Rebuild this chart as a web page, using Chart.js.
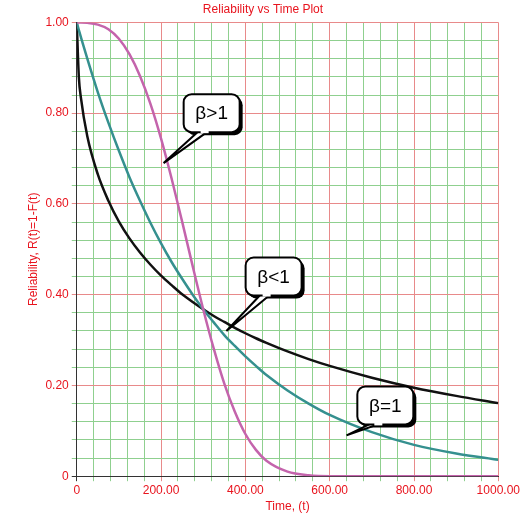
<!DOCTYPE html>
<html><head><meta charset="utf-8">
<script src="https://cdn.jsdelivr.net/npm/chart.js@4"></script>
<style>body{margin:0;background:#fff}#wrap{width:522px;height:514px}</style>
</head><body><div id="wrap"><canvas id="c"></canvas></div>
<script>
// time points
const times = [0,5,10,25,50,75,100,125,150,175,200,225,250,275,300,325,350,375,400,425,450,500,550,600,700,800,900,1000];
const betaLess = [1,0.879,0.833,0.749,0.665,0.607,0.561,0.524,0.493,0.466,0.442,0.421,0.401,0.384,0.368,0.353,0.340,0.327,0.315,0.304,0.294,0.275,0.258,0.243,0.217,0.195,0.177,0.161];
const betaOne = [1,0.983,0.967,0.920,0.846,0.779,0.717,0.659,0.607,0.558,0.513,0.472,0.435,0.400,0.368,0.339,0.311,0.287,0.264,0.243,0.223,0.189,0.160,0.135,0.097,0.069,0.050,0.036];
const betaMore = [1,1,1,0.999,0.995,0.985,0.964,0.930,0.882,0.820,0.744,0.656,0.561,0.463,0.368,0.281,0.204,0.142,0.093,0.058,0.034,0.010,0.002,0,0,0,0,0];
const callouts = [
  { text: 'β>1', box: [320, 0.80], tip: [206, 0.69] },
  { text: 'β<1', box: [467, 0.44], tip: [355, 0.32] },
  { text: 'β=1', box: [732, 0.156], tip: [640, 0.09] }
];

const toPts = arr => arr.map((v, i) => ({ x: times[i], y: v }));

const calloutPlugin = {
  id: 'callouts',
  afterDatasetsDraw(chart) {
    const { ctx, scales: { x, y } } = chart;
    ctx.save();
    ctx.font = '19px Arial, "Liberation Sans"';
    callouts.forEach(c => {
      const bx = x.getPixelForValue(c.box[0]), by = y.getPixelForValue(c.box[1]);
      const tx = x.getPixelForValue(c.tip[0]), ty = y.getPixelForValue(c.tip[1]);
      const w = 56, h = 38, l = bx - w / 2, t = by - h / 2;
      ctx.fillStyle = '#000';
      ctx.beginPath(); ctx.roundRect(l + 3, t + 3, w, h, 8); ctx.fill();
      ctx.fillStyle = '#fff'; ctx.strokeStyle = '#000'; ctx.lineWidth = 2;
      ctx.beginPath(); ctx.moveTo(bx - 12, t + h - 2); ctx.lineTo(tx, ty); ctx.lineTo(bx - 2, t + h - 2); ctx.closePath();
      ctx.fill(); ctx.stroke();
      ctx.beginPath(); ctx.roundRect(l, t, w, h, 8); ctx.fill(); ctx.stroke();
      ctx.fillRect(bx - 11, t + h - 4, 8, 5);
      ctx.fillStyle = '#000'; ctx.textAlign = 'center'; ctx.textBaseline = 'middle';
      ctx.fillText(c.text, bx, by + 1);
    });
    ctx.restore();
  }
};

const line = (data, color) => ({ data: toPts(data), borderColor: color, borderWidth: 2.5, pointRadius: 0, cubicInterpolationMode: 'monotone', fill: false });
const gridColor = c => c.index === 0 ? '#333' : (c.index % 5 === 0 ? '#e88a8a' : '#8fd08f');

new Chart(document.getElementById('c'), {
  type: 'line',
  data: { datasets: [line(betaMore, '#c464ac'), line(betaOne, '#35908f'), line(betaLess, '#111111')] },
  options: {
    responsive: true, maintainAspectRatio: false, animation: false,
    layout: { padding: { top: 0, right: 20, left: 24, bottom: 0 } },
    plugins: {
      legend: { display: false }, tooltip: { enabled: false },
      title: { display: true, text: 'Reliability vs Time Plot', color: '#e8141e', font: { size: 12, family: 'Arial', weight: 'normal' }, padding: { top: 2, bottom: 6 } }
    },
    scales: {
      x: {
        type: 'linear', min: 0, max: 1000,
        ticks: { stepSize: 40, autoSkip: false, maxRotation: 0, color: '#e8141e', font: { size: 12, family: 'Arial' }, padding: 2,
          callback: v => v % 200 === 0 ? (v === 0 ? '0' : v.toFixed(2)) : '' },
        grid: { color: gridColor, lineWidth: 1, tickLength: 5 },
        border: { color: '#333' },
        title: { display: true, text: 'Time, (t)', color: '#e8141e', font: { size: 12, family: 'Arial' }, padding: 0 }
      },
      y: {
        min: 0, max: 1,
        ticks: { stepSize: 0.04, autoSkip: false, color: '#e8141e', font: { size: 12, family: 'Arial' },
          callback: v => { const r = Math.round(v * 100); return r % 20 === 0 ? (r === 0 ? '0' : (r / 100).toFixed(2)) : ''; } },
        grid: { color: gridColor, lineWidth: 1, tickLength: 5 },
        border: { color: '#333' },
        title: { display: true, text: 'Reliability, R(t)=1-F(t)', color: '#e8141e', font: { size: 12, family: 'Arial' }, padding: 2 }
      }
    }
  },
  plugins: [calloutPlugin]
});
</script></body></html>
